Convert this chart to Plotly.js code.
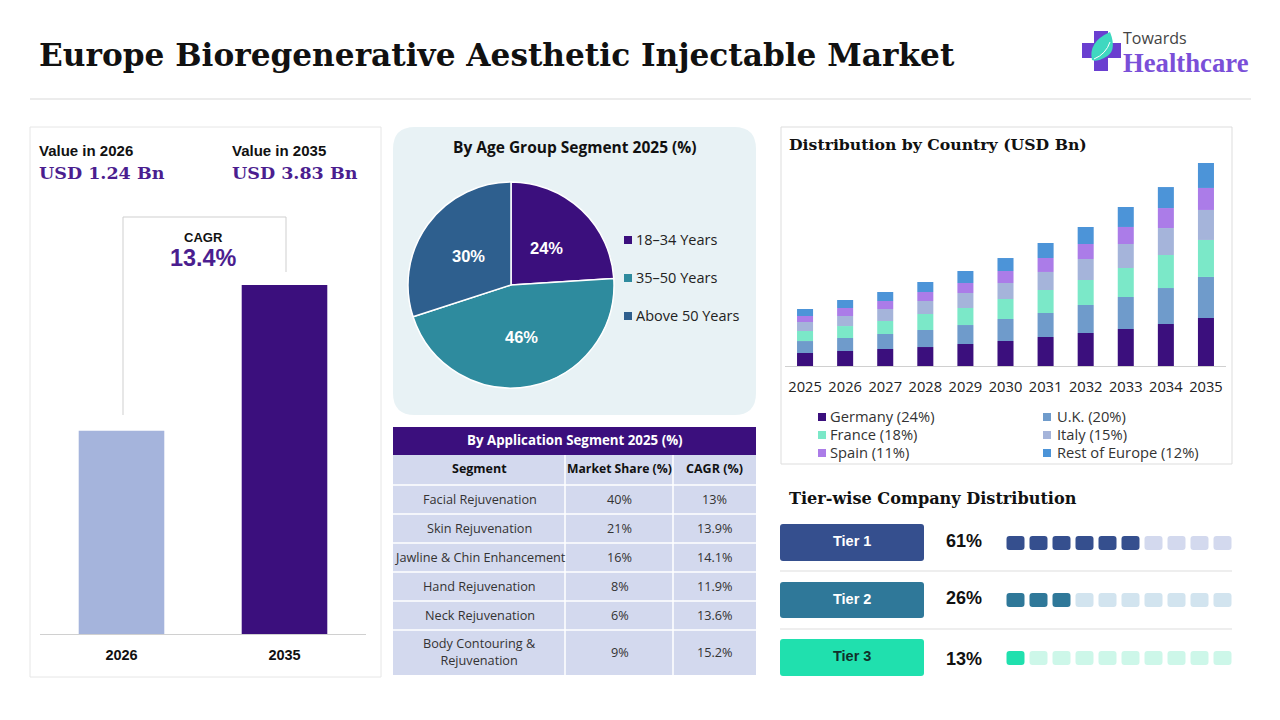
<!DOCTYPE html>
<html><head><meta charset="utf-8">
<script src="https://cdn.plot.ly/plotly-3.0.1.min.js"></script>
<style>html,body{margin:0;padding:0;background:#fff}#c{width:1280px;height:720px}</style>
</head><body><div id="c"></div>
<script>
// ---- data ----
const chartTitle = 'Europe Bioregenerative Aesthetic Injectable Market';
const valueYears = ['2026','2035'];
const valueLabels = ['USD 1.24 Bn','USD 3.83 Bn'];
// bar heights as drawn in the picture (the 2026 bar is not drawn to scale with its label)
const valueBars = [2.23,3.83];
const cagrText = '13.4%';

const ageLabels = ['18–34 Years','35–50 Years','Above 50 Years'];
const ageValues = [24,46,30];
const ageColors = ['#3B0F7D','#2E8B9E','#2E5F8E'];

const years = ['2025','2026','2027','2028','2029','2030','2031','2032','2033','2034','2035'];
const germany = [.245,.283,.321,.358,.415,.472,.547,.623,.698,.792,.906];
const uk      = [.226,.245,.283,.321,.358,.415,.453,.528,.604,.679,.774];
const france  = [.189,.226,.245,.302,.321,.377,.434,.472,.547,.623,.698];
const italy   = [.170,.189,.226,.245,.283,.302,.340,.396,.453,.509,.566];
const spain   = [.113,.151,.151,.170,.189,.226,.264,.283,.321,.377,.415];
const rest    = [.132,.151,.170,.189,.226,.245,.283,.321,.377,.396,.472];

const segHeader = ['Segment','Market Share (%)','CAGR (%)'];
const segNames = ['Facial Rejuvenation','Skin Rejuvenation','Jawline &amp; Chin Enhancement','Hand Rejuvenation','Neck Rejuvenation','Body Contouring &amp;<br>Rejuvenation'];
const segShare = ['40%','21%','16%','8%','6%','9%'];
const segCagr = ['13%','13.9%','14.1%','11.9%','13.6%','15.2%'];

const tierNames = ['Tier 1','Tier 2','Tier 3'];
const tierShare = [61,26,13];
const tierFilled = [6,3,1];
const tierDark = ['#354F8E','#2F7899','#20E0AE'];
const tierLight = ['#D3D9EE','#D2E4EF','#CDF7E9'];
const tierText = ['#FFFFFF','#FFFFFF','#10302A'];

// ---- helpers: pixel -> paper ----
const W=1280,H=720;
const px=x=>x/W, py=y=>1-y/H;
const SANS='Liberation Sans, Arial, sans-serif', BODY='Open Sans, Noto Sans, sans-serif', SERIF='DejaVu Serif, serif';
const ann=[], shp=[];
function T(text,x,y,size,color,opt={}){
  const a=opt.a||'center';
  ann.push({text,x:px(a==='left'?x-1:x),y:py(y),xref:'paper',yref:'paper',showarrow:false,xanchor:a,yanchor:'middle',
    align:a,font:{size,color,family:opt.f||SANS,weight:opt.w||400},borderpad:0});
}
function rr(x0,y0,x1,y1,r,fill,line){
  const X=px,Y=py;
  const p=`M${X(x0+r)},${Y(y0)}L${X(x1-r)},${Y(y0)}Q${X(x1)},${Y(y0)} ${X(x1)},${Y(y0+r)}L${X(x1)},${Y(y1-r)}Q${X(x1)},${Y(y1)} ${X(x1-r)},${Y(y1)}L${X(x0+r)},${Y(y1)}Q${X(x0)},${Y(y1)} ${X(x0)},${Y(y1-r)}L${X(x0)},${Y(y0+r)}Q${X(x0)},${Y(y0)} ${X(x0+r)},${Y(y0)}Z`;
  shp.push({type:'path',path:p,xref:'paper',yref:'paper',fillcolor:fill,line:{width:line?1:0,color:line||fill},layer:'below'});
}
function L(x0,y0,x1,y1,c,w){shp.push({type:'line',xref:'paper',yref:'paper',x0:px(x0),y0:py(y0),x1:px(x1),y1:py(y1),line:{color:c,width:w||1},layer:'below'});}
function R(x0,y0,x1,y1,fill,line){shp.push({type:'rect',xref:'paper',yref:'paper',x0:px(x0),y0:py(y0),x1:px(x1),y1:py(y1),fillcolor:fill,line:{width:line?1:0,color:line||fill},layer:'below'});}
const dx=(a,b)=>[px(a),px(b)], dy=(top,bot)=>[py(bot),py(top)];

// ---- header ----
T(chartTitle,39,55,31.2,'#111',{a:'left',f:SERIF,w:700});
L(30,99,1251,99,'#D9D9D9');
// logo
const LP='#6A3FD0';
R(1094,31,1108,71,LP); R(1082,43,1121,58,LP);
shp.push({type:'path',xref:'paper',yref:'paper',fillcolor:'#3FD8C0',line:{width:0},layer:'above',
  path:`M${px(1110)},${py(32)}Q${px(1118)},${py(52)} ${px(1104)},${py(58)}Q${px(1097)},${py(62)} ${px(1092)},${py(60)}Q${px(1088)},${py(42)} ${px(1110)},${py(32)}Z`});
shp.push({type:'path',xref:'paper',yref:'paper',line:{width:1,color:'#FFFFFF'},layer:'above',
  path:`M${px(1094)},${py(59)}Q${px(1106)},${py(54)} ${px(1110)},${py(42)}`});
T('Towards',1123,38,16,'#444',{a:'left',f:BODY});
T('Healthcare',1123,63,26.7,'#7A4FD8',{a:'left',f:'Liberation Serif, serif',w:700});

// ---- left panel ----
R(30,127,381,677,'#FFFFFF','#E6E6E6');
T('Value in 2026',39,150,15,'#111',{a:'left',w:700});
T('Value in 2035',232,150,15,'#111',{a:'left',w:700});
T(valueLabels[0],39,173,17.5,'#4B1E8F',{a:'left',f:SERIF,w:700});
T(valueLabels[1],232,173,17.5,'#4B1E8F',{a:'left',f:SERIF,w:700});
L(123,415,123,217,'#CFCFCF');L(123,217,286,217,'#CFCFCF');L(286,217,286,272,'#CFCFCF');
T('CAGR',203,238,13,'#111',{w:700});
T(cagrText,203,258,23.4,'#4B1E8F',{w:700});

// ---- pie panel ----
rr(393,127,756,415,22,'#E8F2F5');
T('By Age Group Segment 2025 (%)',575,147,15.5,'#111',{f:BODY,w:700});
ageLabels.forEach((l,i)=>{
  const y=240+i*38;
  R(624,y-4,632,y+4,ageColors[i]);
  T(l,636,y-.5,14.5,'#222',{a:'left',f:BODY});
});
const pieLabelPos=[[546,248],[521,337],[468,256]];
ageValues.forEach((v,i)=>T(v+'%',pieLabelPos[i][0],pieLabelPos[i][1],16.5,'#FFF',{w:700}));

// ---- table ----
R(393,427,756,455,'#3B0F7D');
T('By Application Segment 2025 (%)',575,440,13.3,'#FFF',{f:BODY,w:700});
const rowEdges=[455,485,514,543,572,601,630,675];
const colEdges=[393,565,673,756];
const colMid=[479.5,619.5,714.5];
R(393,455,756,675,'#D3D9EE');
rowEdges.slice(1,-1).forEach(y=>L(393,y,756,y,'#FFFFFF',1.5));
colEdges.slice(1,-1).forEach(x=>L(x,455,x,675,'#FFFFFF',1.5));
segHeader.forEach((s,c)=>T(s,colMid[c],468,c===1?12.2:12.5,'#111',{f:BODY,w:700}));
[segNames,segShare,segCagr].forEach((col,c)=>col.forEach((s,r)=>
  T(s,colMid[c],(rowEdges[r+1]+rowEdges[r+2])/2-1,12.7,'#333',{f:BODY})));

// ---- country panel ----
R(781,127,1232,464,'#FFFFFF','#DDDDDD');
T('Distribution by Country (USD Bn)',789,145,15.7,'#111',{a:'left',f:SERIF,w:700});

// ---- tiers ----
T('Tier-wise Company Distribution',789,498,16.1,'#111',{a:'left',f:SERIF,w:700});
const tierBtn=[[524,561],[582,618],[639,676]];
const pctY=[541,598,659];
const pillY=[[536,550],[593,607],[651,665]];
tierNames.forEach((n,i)=>{
  rr(780,tierBtn[i][0],924,tierBtn[i][1],3,tierDark[i]);
  T(n,852,(tierBtn[i][0]+tierBtn[i][1])/2-1.2,14.5,tierText[i],{w:700});
  T(tierShare[i]+'%',964,pctY[i],18,'#111',{w:700});
});
L(780,571,1232,571,'#DDDDDD');L(780,629,1232,629,'#DDDDDD');

// ---- traces ----
const traces=[];
traces.push({type:'bar',x:valueYears,y:valueBars,xaxis:'x',yaxis:'y',marker:{color:['#A5B4DC','#3B0F7D']},width:.525,showlegend:false,hoverinfo:'x+y'});
traces.push({type:'pie',labels:ageLabels,values:ageValues,sort:false,direction:'clockwise',rotation:0,
  domain:{x:dx(408,614),y:dy(182,388)},marker:{colors:ageColors,line:{color:'#FFFFFF',width:1.5}},
  textinfo:'none',showlegend:false});
const countrySeries=[['Germany (24%)',germany,'#3B0F7D'],['U.K. (20%)',uk,'#6F9BCB'],['France (18%)',france,'#7BE8C8'],
 ['Italy (15%)',italy,'#A5B4DA'],['Spain (11%)',spain,'#AB7CE8'],['Rest of Europe (12%)',rest,'#4C94D8']];
countrySeries.forEach(([name,vals,c],i)=>{
  traces.push({type:'bar',name,x:years,y:vals,xaxis:'x2',yaxis:'y2',marker:{color:c},width:.4,showlegend:false});
  const lx=i%2?1043:818, ly=417+Math.floor(i/2)*18;
  R(lx,ly-4,lx+8,ly+4,c);
  T(name,i%2?1057:830,ly-1,14.7,'#333',{a:'left',f:BODY});
});

const pills=[1,2,3,4,5,6,7,8,9,10];
const layout={width:W,height:H,margin:{l:0,r:0,t:0,b:0},paper_bgcolor:'#FFFFFF',plot_bgcolor:'rgba(0,0,0,0)',barmode:'relative',showlegend:false,
  annotations:ann,shapes:shp,hovermode:'closest',
  xaxis:{domain:dx(40,366),type:'category',range:[-.5,1.5],showline:true,linecolor:'#D0D0D0',linewidth:1,ticks:'outside',ticklen:8,tickcolor:'rgba(0,0,0,0)',tickfont:{size:14.5,color:'#111',family:SANS,weight:700},showgrid:false,zeroline:false},
  yaxis:{domain:dy(285,634),range:[0,3.83],visible:false},
  xaxis2:{domain:dx(785,1226),type:'category',range:[-.5,10.5],anchor:'y2',showline:true,linecolor:'#D0D0D0',linewidth:1,ticks:'outside',ticklen:7,tickcolor:'rgba(0,0,0,0)',tickfont:{size:14.7,color:'#222',family:BODY},showgrid:false,zeroline:false,tickangle:0},
  yaxis2:{domain:dy(163,366),range:[0,3.83],visible:false,anchor:'x2'}
};
// tier pills: one rounded bar made of an upper and a lower half on each tier's own axes
tierNames.forEach((n,i)=>{
  const k=i+3;
  const colors=pills.map(p=>p<=tierFilled[i]?tierDark[i]:tierLight[i]);
  [.5,-.5].forEach(v=>traces.push({type:'bar',x:pills,y:pills.map(()=>v),xaxis:'x'+k,yaxis:'y'+k,width:18/23,showlegend:false,hoverinfo:'skip',
    marker:{color:colors,cornerradius:3,line:{width:0}}}));
  layout['xaxis'+k]={domain:dx(1004,1234),range:[.5,10.5],visible:false,anchor:'y'+k};
  layout['yaxis'+k]={domain:dy(pillY[i][0],pillY[i][1]),range:[-.5,.5],visible:false,anchor:'x'+k};
});
Plotly.newPlot('c',traces,layout,{displayModeBar:false});
</script></body></html>
